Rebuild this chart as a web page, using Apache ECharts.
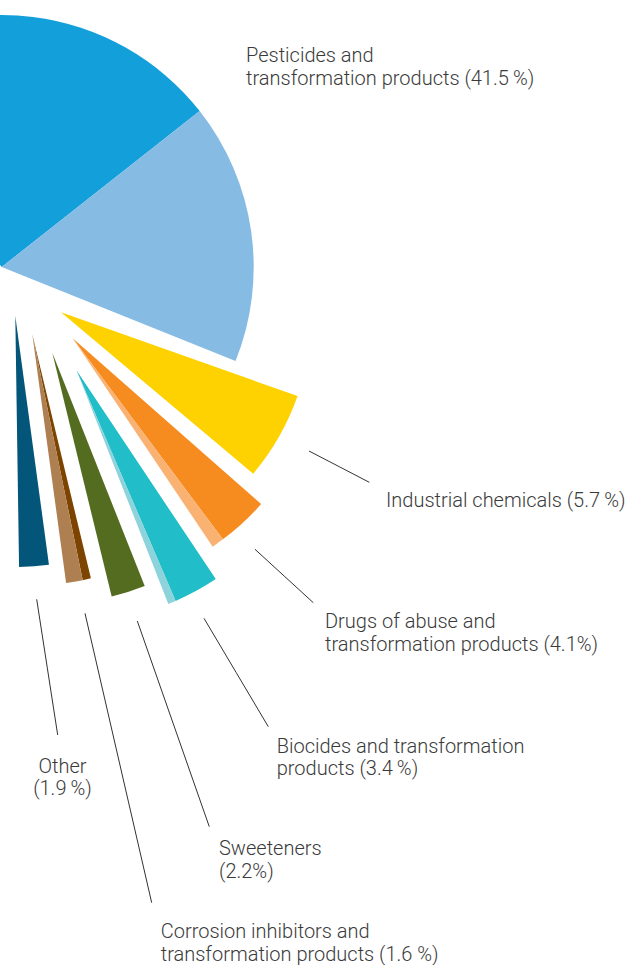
<!DOCTYPE html>
<html>
<head>
<meta charset="utf-8">
<script src="https://cdn.jsdelivr.net/npm/echarts@6/dist/echarts.min.js"></script>
<style>
html,body{margin:0;padding:0;background:#fff;}
#chart{width:630px;height:965px;}
</style>
</head>
<body>
<div id="chart"></div>
<script>
// ---- data (shares in % of all detections) ----
const categories = [
  'Pesticides and transformation products',
  'Industrial chemicals',
  'Drugs of abuse and transformation products',
  'Biocides and transformation products',
  'Sweeteners',
  'Corrosion inhibitors and transformation products',
  'Other'
];
const shares = [41.5, 5.7, 4.1, 3.4, 2.2, 1.6, 1.9];
// parent compounds / transformation products split
const subShares = [[24.8, 16.7], [5.7], [3.3, 0.8], [2.9, 0.5], [2.2], [0.53, 1.07], [1.9]];
const labelTexts = [
  'Pesticides and\ntransformation products (41.5\u2009%)',
  'Industrial chemicals (5.7\u2009%)',
  'Drugs of abuse and\ntransformation products (4.1%)',
  'Biocides and transformation\nproducts (3.4\u2009%)',
  'Sweeteners\n(2.2%)',
  'Corrosion inhibitors and\ntransformation products (1.6 %)',
  'Other\n(1.9\u2009%)'
];

// ---- styling / layout ----
const colors = [
  ['#139FDA', '#86BBE4'],
  ['#FED100'],
  ['#F68C20', '#FAB273'],
  ['#21BDC8', '#8CD3DB'],
  ['#546C20'],
  ['#7C4400', '#AE7F51'],
  ['#03567A']
];
const geometry = [
  { center: [1.7, 267], radius: 252, start: 127.5 },
  { center: [61, 312.3], radius: 251, start: -19.5 },
  { center: [72.7, 338.3], radius: 251, start: -41.35 },
  { center: [76.5, 370.3], radius: 251, start: -56.3 },
  { center: [52.3, 352.7], radius: 251, start: -68.4 },
  { center: [32.3, 334.3], radius: 251, start: -76.5 },
  { center: [15.3, 316], radius: 251, start: -82.3 }
];
const labelPos = [
  { x: 246, y: 43.5, align: 'left', lh: 23 },
  { x: 386, y: 488.5, align: 'left', lh: 23 },
  { x: 325, y: 610, align: 'left', lh: 22.5 },
  { x: 276.7, y: 734.5, align: 'left', lh: 22.5 },
  { x: 219, y: 836.8, align: 'left', lh: 22.5 },
  { x: 160.7, y: 920, align: 'left', lh: 22.5 },
  { x: 62.5, y: 754.5, align: 'center', lh: 22.5 }
];
const leaders = [
  null,
  [[309, 451], [369.3, 482.3]],
  [[255, 549.3], [313.3, 602.7]],
  [[204, 618.3], [268.3, 726.7]],
  [[137.3, 621], [209.3, 826.7]],
  [[85, 613.3], [151.7, 902.7]],
  [[36.7, 599.3], [57.7, 735]]
];

const series = categories.map((name, i) => {
  const g = geometry[i];
  const lp = labelPos[i];
  const data = subShares[i].map((v, j) => ({
    name: j === 0 ? name : name + ' (part ' + (j + 1) + ')',
    value: v,
    itemStyle: { color: colors[i][j] },
    label: { show: j === 0 },
    labelLine: { show: j === 0 && !!leaders[i] }
  }));
  data.push({
    name: 'rest',
    value: +(100 - shares[i]).toFixed(2),
    itemStyle: { color: 'rgba(0,0,0,0)' },
    label: { show: false },
    labelLine: { show: false }
  });
  return {
    type: 'pie',
    name: name,
    center: g.center,
    radius: g.radius,
    startAngle: g.start,
    clockwise: true,
    silent: true,
    animation: false,
    avoidLabelOverlap: false,
    minAngle: 0,
    itemStyle: { borderWidth: 0 },
    label: {
      position: 'outside',
      formatter: () => labelTexts[i],
      fontFamily: 'Roboto',
      fontWeight: 300,
      fontSize: 20,
      lineHeight: lp.lh,
      color: '#3a3a3a',
      overflow: 'none'
    },
    labelLine: {
      lineStyle: { color: '#333333', width: 1 }
    },
    labelLayout: (p) => {
      if (p.dataIndex !== 0) return {};
      const out = { x: lp.x, y: lp.y, align: lp.align, verticalAlign: 'top' };
      if (leaders[i]) {
        const a = leaders[i][0], b = leaders[i][1];
        out.labelLinePoints = [a, [(a[0] + b[0]) / 2, (a[1] + b[1]) / 2], b];
      }
      return out;
    },
    data: data
  };
});

const chart = echarts.init(document.getElementById('chart'), null, { renderer: 'svg' });
chart.setOption({
  backgroundColor: '#ffffff',
  animation: false,
  series: series
});
</script>
</body>
</html>
